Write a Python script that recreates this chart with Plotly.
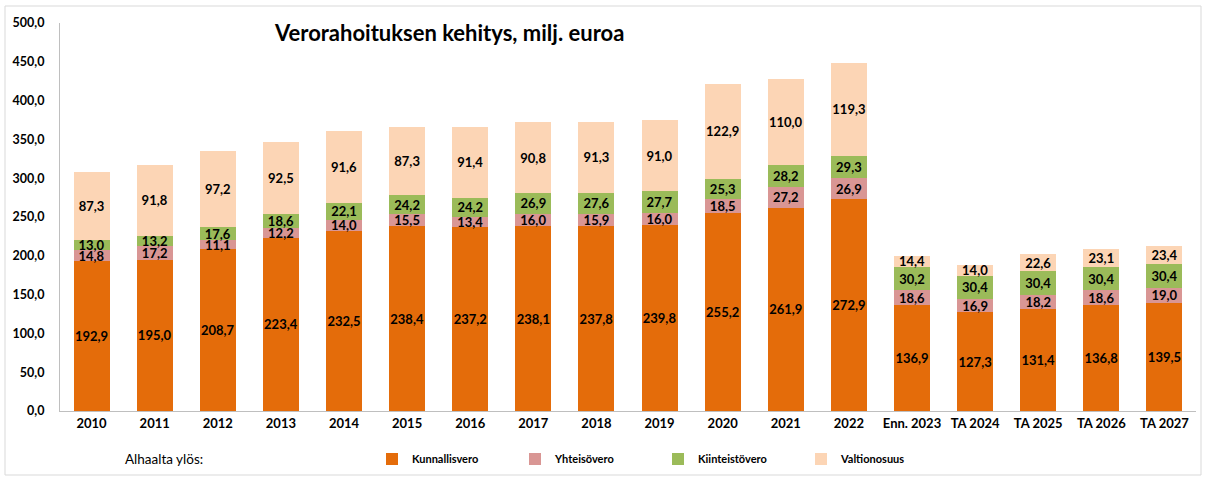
import plotly.graph_objects as go

categories = ["2010", "2011", "2012", "2013", "2014", "2015", "2016", "2017", "2018", "2019",
              "2020", "2021", "2022", "Enn. 2023", "TA 2024", "TA 2025", "TA 2026", "TA 2027"]
kunnallisvero = [192.9, 195.0, 208.7, 223.4, 232.5, 238.4, 237.2, 238.1, 237.8, 239.8,
                 255.2, 261.9, 272.9, 136.9, 127.3, 131.4, 136.8, 139.5]
yhteisovero = [14.8, 17.2, 11.1, 12.2, 14.0, 15.5, 13.4, 16.0, 15.9, 16.0,
               18.5, 27.2, 26.9, 18.6, 16.9, 18.2, 18.6, 19.0]
kiinteistovero = [13.0, 13.2, 17.6, 18.6, 22.1, 24.2, 24.2, 26.9, 27.6, 27.7,
                  25.3, 28.2, 29.3, 30.2, 30.4, 30.4, 30.4, 30.4]
valtionosuus = [87.3, 91.8, 97.2, 92.5, 91.6, 87.3, 91.4, 90.8, 91.3, 91.0,
                122.9, 110.0, 119.3, 14.4, 14.0, 22.6, 23.1, 23.4]

series = [
    ("Kunnallisvero", kunnallisvero, "#E46C0A"),
    ("Yhteisövero", yhteisovero, "#D99694"),
    ("Kiinteistövero", kiinteistovero, "#9BBB59"),
    ("Valtionosuus", valtionosuus, "#FCD5B5"),
]

FONT = "Lato"
fig = go.Figure()
for name, vals, col in series:
    fig.add_trace(go.Bar(
        name=name, x=categories, y=vals,
        marker=dict(color=col, line=dict(width=0)),
        texttemplate="%{y:.1f}", textposition="inside", insidetextanchor="middle",
        textangle=0, constraintext="none", cliponaxis=False,
        textfont=dict(family=FONT, size=13, color="#000000", weight="bold"),
    ))

W, H = 1206, 479
ml, mr, mt, mb = 60, 10, 23, 68
pw, ph = W - ml - mr, H - mt - mb

fig.update_layout(
    width=W, height=H, barmode="stack", bargap=0.43,
    separators=", ",
    paper_bgcolor="white", plot_bgcolor="white",
    margin=dict(l=ml, r=mr, t=mt, b=mb, pad=0, autoexpand=False),
    font=dict(family=FONT, size=13, color="#000000"),
    showlegend=True,
    legend=dict(orientation="h", x=(372 - ml) / pw, xanchor="left",
                y=-(459 - (H - mb)) / ph, yanchor="middle",
                entrywidth=98, entrywidthmode="pixels", itemwidth=30,
                font=dict(family=FONT, size=11, color="#000000", weight="bold"),
                bgcolor="rgba(0,0,0,0)", traceorder="normal"),
    xaxis=dict(showgrid=False, showline=True, linecolor="#BFBFBF", linewidth=1,
               ticks="", tickfont=dict(family=FONT, size=13, weight="bold"),
               automargin=False, fixedrange=True),
    yaxis=dict(range=[0, 500], dtick=50, tickformat=".1f", showgrid=False,
               showline=True, linecolor="#BFBFBF", linewidth=1, ticks="",
               ticklabelstandoff=12, automargin=False,
               tickfont=dict(family=FONT, size=12.5, weight="bold"), zeroline=False),
)

fig.add_annotation(text="Verorahoituksen kehitys, milj. euroa", xref="paper", yref="paper",
                   x=(272 - ml) / pw, y=1 - (32 - mt) / ph, xanchor="left", yanchor="middle",
                   showarrow=False, font=dict(family=FONT, size=22, weight="bold"))
fig.add_annotation(text="Alhaalta ylös:", xref="paper", yref="paper",
                   x=(123 - ml) / pw, y=-(459 - (H - mb)) / ph, xanchor="left", yanchor="middle",
                   showarrow=False, font=dict(family=FONT, size=13.5))
fig.add_shape(type="rect", xref="paper", yref="paper",
              x0=-(ml - 5) / pw, x1=1 + (mr - 5) / pw,
              y0=-(mb - 4) / ph, y1=1 + (mt - 6) / ph,
              line=dict(color="#D9D9D9", width=1), fillcolor="rgba(0,0,0,0)", layer="below")

fig.write_html("out.html", config={"displayModeBar": False},
               post_script="document.body.style.margin='0px';document.body.style.overflow='hidden';")
